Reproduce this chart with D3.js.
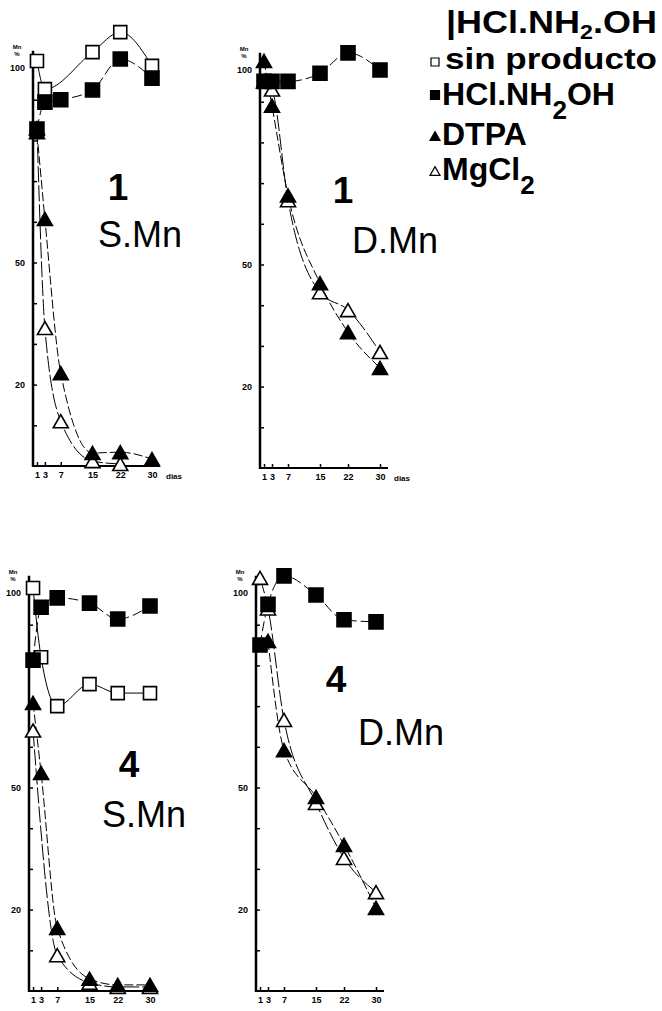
<!DOCTYPE html>
<html>
<head>
<meta charset="utf-8">
<script src="https://cdn.jsdelivr.net/npm/d3@7"></script>
<style>
body { margin: 0; background: #fff; }
svg { font-family: "Liberation Sans", Arial, sans-serif; }
</style>
</head>
<body>
<script>
// days of sampling (x) and y ticks
var days = [1, 3, 7, 15, 22, 30];
var yTicks = [10, 20, 30, 40, 50, 60, 70, 80, 90, 100];
var yLabels = [20, 50, 100];

// 1 S.Mn
var s1Sin = [99.5, 92.6, null, 101.7, 106.6, 98.3];
var s1Hcl = [82.8, 89.4, 90, 92.4, 100, 95.3];
var s1Dtpa = [82, 60.7, 22.8, 3.2, 3.4, 1.7];
var s1Mg = [83, 33.9, 11, 1.2, 0.5, null];

// 1 D.Mn
var d1Hcl = [95, 95, 95, 97, 102, 97.8];
var d1Dtpa = [100, 89, 67, 45.4, 33.4, 24.6];
var d1Mg = [95, 93, 65.8, 43.2, 38.8, 28.5];

// 4 S.Mn
var s4Sin = [99, 82, 70, 75.4, 73.2, 73.2];
var s4Hcl = [81.3, 94.3, 96.6, 95.3, 91.4, 94.6];
var s4Dtpa = [70.8, 53.6, 15.5, 3, 1.5, 1.5];
var s4Mg = [64, null, 8.8, 2, 1, 1];

// 4 D.Mn
var d4Hcl = [85, 95, 102, 97.3, 91.2, 90.7];
var d4Dtpa = [null, 86, 59.2, 47.7, 35.9, 20.4];
var d4Mg = [101.5, 94, 66.6, 46.2, 32.7, 24.3];

var panels = [
  {x0: 33, x1: 152, yb: 466, num: "1", numX: 118, numY: 200, name: "S.Mn", nameX: 98, nameY: 247, dias: true,
   sin: s1Sin, hcl: s1Hcl, dtpa: s1Dtpa, mg: s1Mg},
  {x0: 260, x1: 380, yb: 468, num: "1", numX: 343, numY: 203, name: "D.Mn", nameX: 352, nameY: 253, dias: true,
   sin: null, hcl: d1Hcl, dtpa: d1Dtpa, mg: d1Mg},
  {x0: 29, x1: 150, yb: 991, num: "4", numX: 129, numY: 777, name: "S.Mn", nameX: 102, nameY: 827, dias: false,
   sin: s4Sin, hcl: s4Hcl, dtpa: s4Dtpa, mg: s4Mg},
  {x0: 256, x1: 376, yb: 991, num: "4", numX: 336, numY: 692, name: "D.Mn", nameX: 358, nameY: 745, dias: false,
   sin: null, hcl: d4Hcl, dtpa: d4Dtpa, mg: d4Mg}
];

var svg = d3.select("body").append("svg")
  .attr("width", 662)
  .attr("height", 1011);

function pts(vals) {
  return days.map(function(d, i) { return [d, vals[i]]; })
    .filter(function(p) { return p[1] != null; });
}

function square(s) {
  return "M" + (-s / 2) + "," + (-s / 2) + "h" + s + "v" + s + "h" + (-s) + "Z";
}
function tri(s) {
  var h = s * 0.87;
  return "M0," + (-h / 2) + "L" + (s / 2) + "," + (h / 2) + "L" + (-s / 2) + "," + (h / 2) + "Z";
}

panels.forEach(function(p) {
  var x = d3.scaleLinear().domain([0, 30]).range([p.x0, p.x1]);
  var y = d3.scaleLinear().domain([0, 100]).range([p.yb, p.yb - 407]);
  var g = svg.append("g");

  // y axis
  var ya = g.append("g")
    .attr("transform", "translate(" + p.x0 + ",0)")
    .call(d3.axisLeft(y).tickValues(yTicks).tickSize(-4).tickPadding(8)
      .tickFormat(function(d) { return yLabels.indexOf(d) >= 0 ? d : ""; }));
  ya.select(".domain").remove();
  ya.selectAll("text").style("font-size", "9px").style("font-weight", "bold")
    .style("font-family", "Liberation Sans")
    .attr("dy", function(d) { return d == 100 ? "1.3em" : "0.32em"; });
  ya.selectAll("line").attr("stroke-width", 1.5);

  // x axis
  var xa = g.append("g")
    .attr("transform", "translate(0," + p.yb + ")")
    .call(d3.axisBottom(x).tickValues(days).tickSize(-4).tickPadding(6).tickFormat(d3.format("d")));
  xa.select(".domain").remove();
  xa.selectAll("text").style("font-size", "9px").style("font-weight", "bold")
    .style("font-family", "Liberation Sans");
  xa.selectAll("line").attr("stroke-width", 1.5);

  g.append("line")
    .attr("x1", p.x0).attr("x2", p.x0)
    .attr("y1", p.yb + 1).attr("y2", y(102))
    .attr("stroke", "#000").attr("stroke-width", 2.5);
  g.append("line")
    .attr("x1", p.x0 - 1).attr("x2", x(32))
    .attr("y1", p.yb).attr("y2", p.yb)
    .attr("stroke", "#000").attr("stroke-width", 2);

  // Mn % label
  g.append("text").attr("x", p.x0 - 16).attr("y", y(100) - 10)
    .attr("text-anchor", "middle").style("font-size", "6px").style("font-weight", "bold").text("Mn");
  g.append("text").attr("x", p.x0 - 16).attr("y", y(100) - 3)
    .attr("text-anchor", "middle").style("font-size", "6px").style("font-weight", "bold").text("%");

  if (p.dias) {
    g.append("text").attr("x", x(30) + 14).attr("y", p.yb + 13)
      .style("font-size", "8px").style("font-weight", "bold").text("dias");
  }

  // curves
  var line = d3.line()
    .x(function(d) { return x(d[0]); })
    .y(function(d) { return y(d[1]); })
    .curve(d3.curveMonotoneX);

  var series = [
    {vals: p.sin, dash: null},
    {vals: p.hcl, dash: "10,4"},
    {vals: p.dtpa, dash: "9,3"},
    {vals: p.mg, dash: "16,3"}
  ];
  series.forEach(function(s) {
    if (!s.vals) return;
    g.append("path")
      .datum(pts(s.vals))
      .attr("d", line)
      .attr("fill", "none")
      .attr("stroke", "#000")
      .attr("stroke-width", 1)
      .attr("stroke-dasharray", s.dash);
  });

  // markers: open squares, open triangles, filled triangles, filled squares
  var marks = [
    {vals: p.sin, shape: square(13), fill: "#fff"},
    {vals: p.mg, shape: tri(15), fill: "#fff"},
    {vals: p.dtpa, shape: tri(15), fill: "#000"},
    {vals: p.hcl, shape: square(14), fill: "#000"}
  ];
  marks.forEach(function(m) {
    if (!m.vals) return;
    g.selectAll(null)
      .data(pts(m.vals))
      .enter().append("path")
      .attr("d", m.shape)
      .attr("transform", function(d) { return "translate(" + x(d[0]) + "," + y(d[1]) + ")"; })
      .attr("fill", m.fill)
      .attr("stroke", "#000")
      .attr("stroke-width", 1.6);
  });

  // panel titles
  g.append("text").attr("x", p.numX).attr("y", p.numY)
    .attr("text-anchor", "middle").style("font-size", "37px").style("font-weight", "bold").text(p.num);
  g.append("text").attr("x", p.nameX).attr("y", p.nameY)
    .style("font-size", "36px").text(p.name);
});

// legend
var lg = svg.append("g").style("font-weight", "bold");
var l1 = lg.append("text").attr("x", 446).attr("y", 33).style("font-size", "31px")
  .attr("textLength", 211).attr("lengthAdjust", "spacingAndGlyphs");
l1.append("tspan").text("|HCl.NH");
l1.append("tspan").attr("dy", 6).style("font-size", "20px").text("2");
l1.append("tspan").attr("dy", -6).text(".OH");

lg.append("text").attr("x", 445).attr("y", 69).style("font-size", "30px")
  .attr("textLength", 212).attr("lengthAdjust", "spacingAndGlyphs").text("sin producto");

var l3 = lg.append("text").attr("x", 442).attr("y", 105).style("font-size", "32px")
  .attr("textLength", 173).attr("lengthAdjust", "spacingAndGlyphs");
l3.append("tspan").text("HCl.NH");
l3.append("tspan").attr("dy", 14).style("font-size", "26px").text("2");
l3.append("tspan").attr("dy", -14).text("OH");

lg.append("text").attr("x", 442).attr("y", 145).style("font-size", "32px").text("DTPA");

var l5 = lg.append("text").attr("x", 442).attr("y", 180).style("font-size", "32px");
l5.append("tspan").text("MgCl");
l5.append("tspan").attr("dy", 14).style("font-size", "26px").text("2");

var legendMarks = [
  {y: 62, shape: square(8), fill: "#fff"},
  {y: 95, shape: square(9), fill: "#000"},
  {y: 136, shape: tri(10), fill: "#000"},
  {y: 171, shape: tri(10), fill: "#fff"}
];
lg.selectAll(null)
  .data(legendMarks)
  .enter().append("path")
  .attr("d", function(d) { return d.shape; })
  .attr("transform", function(d) { return "translate(435," + d.y + ")"; })
  .attr("fill", function(d) { return d.fill; })
  .attr("stroke", "#000")
  .attr("stroke-width", 1.2);
</script>
</body>
</html>
